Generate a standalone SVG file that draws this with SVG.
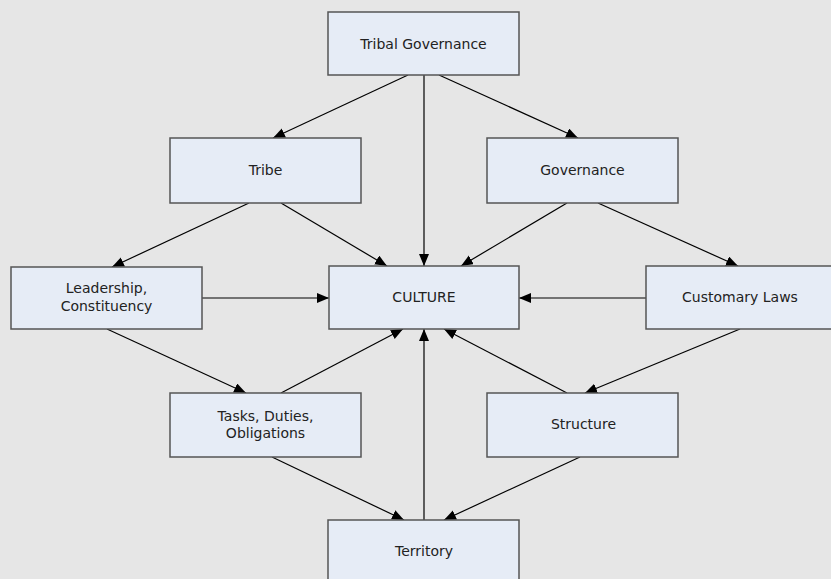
<svg xmlns="http://www.w3.org/2000/svg" width="831" height="579" viewBox="0 0 831 579">
<defs>
<marker id="arr" markerUnits="userSpaceOnUse" markerWidth="13" markerHeight="11" refX="12" refY="5" orient="auto">
<path d="M0,0 L12,5 L0,10 z" fill="#000"/>
</marker>
<style>
.box{fill:#e6ecf6;stroke:#555;stroke-width:1.5}
.t{font-family:"DejaVu Sans",Verdana,sans-serif;font-size:14px;fill:#222;text-anchor:middle}
.c line{stroke:#000;stroke-width:1.2;marker-end:url(#arr)}
</style>
</defs>
<rect width="831" height="579" fill="#e6e6e6"/>
<g class="c" id="connectors">
<line x1="408" y1="75" x2="273" y2="138"/>
<line x1="439" y1="75" x2="578" y2="138"/>
<line x1="424" y1="75" x2="424" y2="266"/>
<line x1="249" y1="203" x2="112" y2="267"/>
<line x1="281" y1="203" x2="387" y2="266"/>
<line x1="567" y1="203" x2="461" y2="266"/>
<line x1="598" y1="203" x2="738" y2="266"/>
<line x1="202" y1="298" x2="329" y2="298"/>
<line x1="646" y1="298" x2="519" y2="298"/>
<line x1="107" y1="329" x2="246" y2="393"/>
<line x1="281" y1="393" x2="403" y2="329"/>
<line x1="740" y1="329" x2="585" y2="393"/>
<line x1="567" y1="393" x2="444" y2="329"/>
<line x1="424" y1="520" x2="424" y2="329"/>
<line x1="272" y1="457" x2="404" y2="520"/>
<line x1="580" y1="457" x2="444" y2="520"/>
</g>
<g id="tribal-governance"><rect class="box" x="328" y="12" width="191" height="63"/><text class="t" x="423.5" y="49">Tribal Governance</text></g>
<g id="tribe"><rect class="box" x="170" y="138" width="191" height="65"/><text class="t" x="265.5" y="175">Tribe</text></g>
<g id="governance"><rect class="box" x="487" y="138" width="191" height="65"/><text class="t" x="582.5" y="175">Governance</text></g>
<g id="leadership"><rect class="box" x="11" y="267" width="191" height="62"/><text class="t" x="106.5" y="293">Leadership,</text><text class="t" x="106.5" y="311">Constituency</text></g>
<g id="culture"><rect class="box" x="329" y="266" width="190" height="63"/><text class="t" x="424" y="302">CULTURE</text></g>
<g id="customary-laws"><rect class="box" x="646" y="266" width="189" height="63"/><text class="t" x="740" y="302">Customary Laws</text></g>
<g id="tasks"><rect class="box" x="170" y="393" width="191" height="64"/><text class="t" x="265.5" y="421">Tasks, Duties,</text><text class="t" x="265.5" y="438">Obligations</text></g>
<g id="structure"><rect class="box" x="487" y="393" width="191" height="64"/><text class="t" x="583.5" y="429">Structure</text></g>
<g id="territory"><rect class="box" x="328" y="520" width="191" height="64"/><text class="t" x="424" y="556">Territory</text></g>
</svg>
